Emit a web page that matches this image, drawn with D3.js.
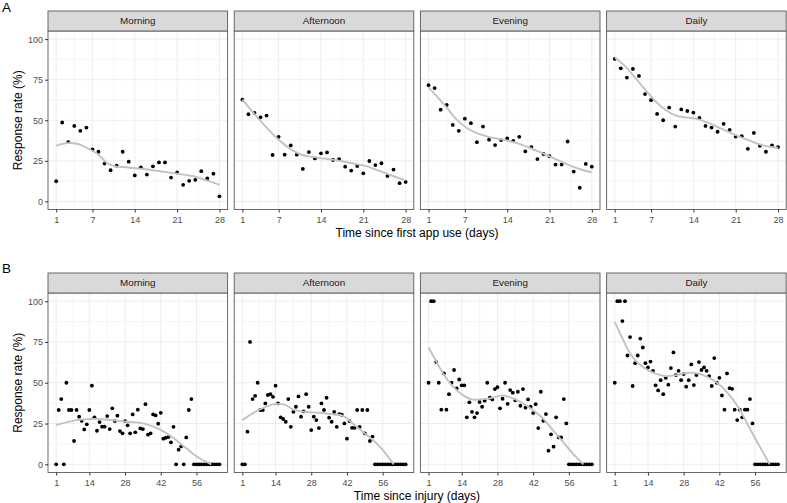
<!DOCTYPE html>
<html><head><meta charset="utf-8">
<script src="https://cdn.jsdelivr.net/npm/d3@7"></script>
<style>body{margin:0;background:#fff}svg{display:block;font-family:"Liberation Sans",Arial,sans-serif}</style>
</head><body><svg id="c" width="787" height="503"></svg>
<script>
const categories = ["Morning","Afternoon","Evening","Daily"];
const yTicks = [0,25,50,75,100];
const ticksA = [1,7,14,21,28];
const ticksB = [1,14,28,42,56];
const titleA = "Time since first app use (days)";
const titleB = "Time since injury (days)";
const yTitle = "Response rate (%)";

// Panel A: days 1..28
const morningA = [12.4,48.6,36.5,46.5,43.5,45.5,32,30.6,23.3,19.2,22,30.6,24.5,16,21,16.5,21.6,24,24,14.7,17.8,10.2,12.7,13.3,18.6,14.1,17.1,3.1];
const afternoonA = [62.7,53.7,54.5,51.8,52.9,28.6,39.8,28.8,34.5,28.8,20,30.4,26.5,29.6,30.2,25.5,26.1,21.4,19,21.8,17.3,24.9,22.4,23.5,15.7,19.6,11.2,12];
const eveningA = [71.6,69.8,56.5,59.4,47.1,43.5,51,48.2,36.5,46.1,38,34.7,37.8,38.8,37.3,39.8,30.8,33.5,26.1,29.2,27.8,22.7,22.7,36.9,18.4,8.4,23.1,21.4];
const dailyA = [87.8,82,76.3,81.6,77.3,66.1,62.4,53.9,50,57.8,46.1,56.7,55.7,54.7,51.4,46.5,45.5,42.9,47.8,44.1,40,40.2,32.4,42.2,34.3,30.6,34.5,33.5];

// Panel B: days 1..65
const morningB = [0,33.3,40,0,50,33.3,33.3,14.3,33.3,29.2,26.7,21.4,24.5,33.3,48.2,28.8,20.6,25.9,23.1,23.1,29.6,21.6,34.3,26.5,29.8,20.4,19,26.5,23.9,19,30.6,19.6,33.5,22,21.6,36.9,18.2,19,30.6,30,24.9,31.6,15.7,16.3,16.7,13.5,23,0,9,11,0,16.5,33.3,40,0,0,0,0,0,0,0,0,0,0,0];
const afternoonB = [0,0,20,75,40,42,50,33.3,33.3,37.3,42.5,43,41.4,48.2,37.3,28.8,27.8,26.1,40,23,32.2,35.3,41.6,29.2,32.4,43,35.3,21,29.2,27.1,22.2,37.3,33.3,40.8,28.6,26.1,32.2,23,30.8,30.4,25.1,15.7,26.5,22.4,22.4,33.3,23,33.3,19,33.3,14.3,17,0,0,0,0,0,0,0,0,0,0,0,0,0];
const eveningB = [50,100,100,62.7,50,33.5,55.7,33.5,43,50,57.8,46.5,52,48.4,48.4,28.8,38,32.2,28.8,31.4,38.2,35.3,39,50,40.8,39.8,46.1,47.3,34.3,40.2,50,37.1,45.5,43.9,39.2,44.5,35.9,46.1,34.7,39.8,35.3,31.4,36.9,22.2,44.5,26.7,30.8,8.4,18.4,10.8,28.8,16.5,16.5,40,25.1,0,0,0,0,0,0,0,0,0,0];
const dailyB = [50,100,100,87.8,100,66.7,78,48,62,66.7,77.1,71.6,62,59.4,63,57.3,48.4,45.3,51.6,43,53,48.8,59,68.6,54.7,57.3,51.6,55.3,47.6,51.6,61.2,48.6,54.7,62.7,57.8,59.4,57.3,54.1,48,65.1,50,53,42.2,33.5,55.7,46.7,46.3,33.5,27.1,33.5,28.8,33.5,33.5,40,25.1,0,0,0,0,0,0,0,0,0,0];

// Smoothed trend lines: [day, value]
const smoothMorningA = [[1,34.3],[2.8,35.9],[4.5,35.5],[6.1,32.9],[7.8,29.4],[9.4,23.7],[10.8,21.6],[12.7,21],[15.4,20],[18.2,18.6],[20.9,17.1],[23.7,15.5],[25.9,12.9],[28,10.2]];
const smoothAfternoonA = [[1,62.7],[2.9,54.3],[5.1,45.1],[7,38],[9,32.2],[10.9,28.6],[12.8,27.3],[15,26.1],[17.2,24.9],[19.4,23.3],[21.6,21.6],[23.8,18.6],[26,15.5],[28,12.9]];
const smoothEveningA = [[1,70.2],[2.4,64.5],[4.1,57.3],[5.7,50.2],[7.4,45.1],[9,42],[11.2,39.4],[13.4,38],[15.6,35.9],[17.8,32.9],[20,29.4],[22.2,25.7],[24.4,22],[26.6,19.2],[28,18]];
const smoothDailyA = [[1,88.6],[2.8,82.9],[4.5,75.7],[6.1,68.6],[7.8,61.4],[9.4,56.3],[11.1,52.9],[12.7,51.8],[14.4,51],[16.6,48.2],[18.8,44.5],[20.9,41],[23.2,37.6],[25.4,34.7],[28,32.9]];
const smoothMorningB = [[1,24.1],[9,27.1],[16.8,27.8],[28.6,26.1],[35.1,25.1],[41.6,21.4],[46.8,16.3],[52,9.8],[57.2,3.7],[61.8,0]];
const smoothAfternoonB = [[1,27.1],[7.9,33.7],[13.8,36.9],[17.8,36.5],[20.9,33.5],[25,32.2],[31.3,31.6],[37,30.5],[40.3,29.8],[44.2,25.1],[48.2,20],[52.2,14.9],[56,8.8],[60.3,0]];
const smoothEveningB = [[1,71.6],[4.1,62.9],[6.7,55.7],[10.6,47.6],[14.5,42.4],[17.8,39.8],[21.7,39.8],[25.6,40.6],[30.1,42.2],[34.1,40.4],[38,37.3],[41.9,33.3],[45.8,28.2],[49.7,21],[53.6,13.9],[57.5,6.7],[61.7,0]];
const smoothDailyB = [[1,87.3],[3.7,78.2],[6.3,70],[9.5,62.9],[12.8,58.8],[16.7,55.7],[20.6,54.1],[25.2,54.7],[29.7,56.1],[33.7,55.7],[37.6,53.3],[41.5,49.6],[45.4,43.5],[49.3,35.3],[53.2,24.1],[57.1,12.9],[59.7,5.7],[61.7,0]];

const rows = [
  {label:"A", labelY:12, stripTop:11, top:31, bottom:209.5, xmin:1, xmax:28, ticks:ticksA, title:titleA, titleY:237, tickY:223,
   series:[morningA,afternoonA,eveningA,dailyA], smooth:[smoothMorningA,smoothAfternoonA,smoothEveningA,smoothDailyA]},
  {label:"B", labelY:273, stripTop:273, top:293, bottom:472.5, xmin:1, xmax:65, ticks:ticksB, title:titleB, titleY:500, tickY:486,
   series:[morningB,afternoonB,eveningB,dailyB], smooth:[smoothMorningB,smoothAfternoonB,smoothEveningB,smoothDailyB]}
];

const svg = d3.select("#c");
const colLeft = i => 48 + i*186.2;
const colW = 179.6;
const grid = "#ededed", border = "#5a5a5a";

rows.forEach((r, ri) => {
  svg.append("text").attr("x",2).attr("y",r.labelY).attr("font-size",13.5).attr("fill","#000").text(r.label);
  const pad = (r.xmax - r.xmin)*0.05;
  const y = d3.scaleLinear().domain([-5,105]).range([r.bottom, r.top]);
  categories.forEach((cat, ci) => {
    const L = colLeft(ci), R = L + colW;
    const x = d3.scaleLinear().domain([r.xmin - pad, r.xmax + pad]).range([L, R]);
    const g = svg.append("g");
    const cid = "clip"+ri+"_"+ci;
    svg.append("clipPath").attr("id",cid).append("rect").attr("x",L).attr("y",r.top).attr("width",colW).attr("height",r.bottom-r.top);
    const yMinor = yTicks.slice(0,-1).map((v,i)=>(v+yTicks[i+1])/2);
    const xMinor = r.ticks.slice(0,-1).map((v,i)=>(v+r.ticks[i+1])/2);
    g.selectAll(".ymn").data(yMinor).join("line").attr("x1",L).attr("x2",R).attr("y1",d=>y(d)).attr("y2",d=>y(d)).attr("stroke",grid).attr("stroke-width",0.5);
    g.selectAll(".xmn").data(xMinor).join("line").attr("y1",r.top).attr("y2",r.bottom).attr("x1",d=>x(d)).attr("x2",d=>x(d)).attr("stroke",grid).attr("stroke-width",0.5);
    g.selectAll(".ymj").data(yTicks).join("line").attr("x1",L).attr("x2",R).attr("y1",d=>y(d)).attr("y2",d=>y(d)).attr("stroke",grid).attr("stroke-width",1);
    g.selectAll(".xmj").data(r.ticks).join("line").attr("y1",r.top).attr("y2",r.bottom).attr("x1",d=>x(d)).attr("x2",d=>x(d)).attr("stroke",grid).attr("stroke-width",1);
    const vals = r.series[ci];
    const pg = svg.append("g").attr("clip-path","url(#"+cid+")");
    pg.selectAll("circle").data(vals).join("circle")
      .attr("cx",(d,i)=>x(r.xmin+i)).attr("cy",d=>y(d)).attr("r",1.9).attr("fill","#000");
    pg.append("path").datum(r.smooth[ci])
      .attr("d", d3.line().x(d=>x(d[0])).y(d=>y(d[1])).curve(d3.curveCatmullRom.alpha(0.5)))
      .attr("fill","none").attr("stroke","#c2c2c2").attr("stroke-width",1.9);
    svg.append("rect").attr("x",L).attr("y",r.top).attr("width",colW).attr("height",r.bottom-r.top)
      .attr("fill","none").attr("stroke",border).attr("stroke-width",0.9);
    svg.append("rect").attr("x",L).attr("y",r.stripTop).attr("width",colW).attr("height",r.top-r.stripTop)
      .attr("fill","#d9d9d9").attr("stroke",border).attr("stroke-width",0.9);
    svg.append("text").attr("x",(L+R)/2).attr("y",(r.stripTop+r.top)/2+3.4).attr("text-anchor","middle")
      .attr("font-size",9.8).attr("fill","#1a1a1a").text(cat);
    const xa = d3.axisBottom(x).tickValues(r.ticks).tickSize(3).tickPadding(2).tickFormat(d3.format("d"));
    const ax = svg.append("g").attr("transform","translate(0,"+r.bottom+")").call(xa);
    ax.select(".domain").remove();
    ax.selectAll(".tick line").attr("stroke","#333");
    ax.selectAll(".tick text").attr("font-size",9).attr("fill","#4d4d4d").attr("font-family",null).attr("dy",null).attr("y",r.tickY - r.bottom);
    if (ci === 0) {
      const ya = d3.axisLeft(y).tickValues(yTicks).tickSize(3).tickPadding(2);
      const ay = svg.append("g").attr("transform","translate("+L+",0)").call(ya);
      ay.select(".domain").remove();
      ay.selectAll(".tick line").attr("stroke","#333");
      ay.selectAll(".tick text").attr("font-size",9).attr("fill","#4d4d4d").attr("font-family",null);
      svg.append("text").attr("transform","translate(21.5,"+((r.top+r.bottom)/2)+") rotate(-90)")
        .attr("text-anchor","middle").attr("font-size",12).attr("fill","#000").text(yTitle);
    }
  });
  svg.append("text").attr("x",417).attr("y",r.titleY).attr("text-anchor","middle").attr("font-size",12).attr("fill","#000").text(r.title);
});
</script></body></html>
